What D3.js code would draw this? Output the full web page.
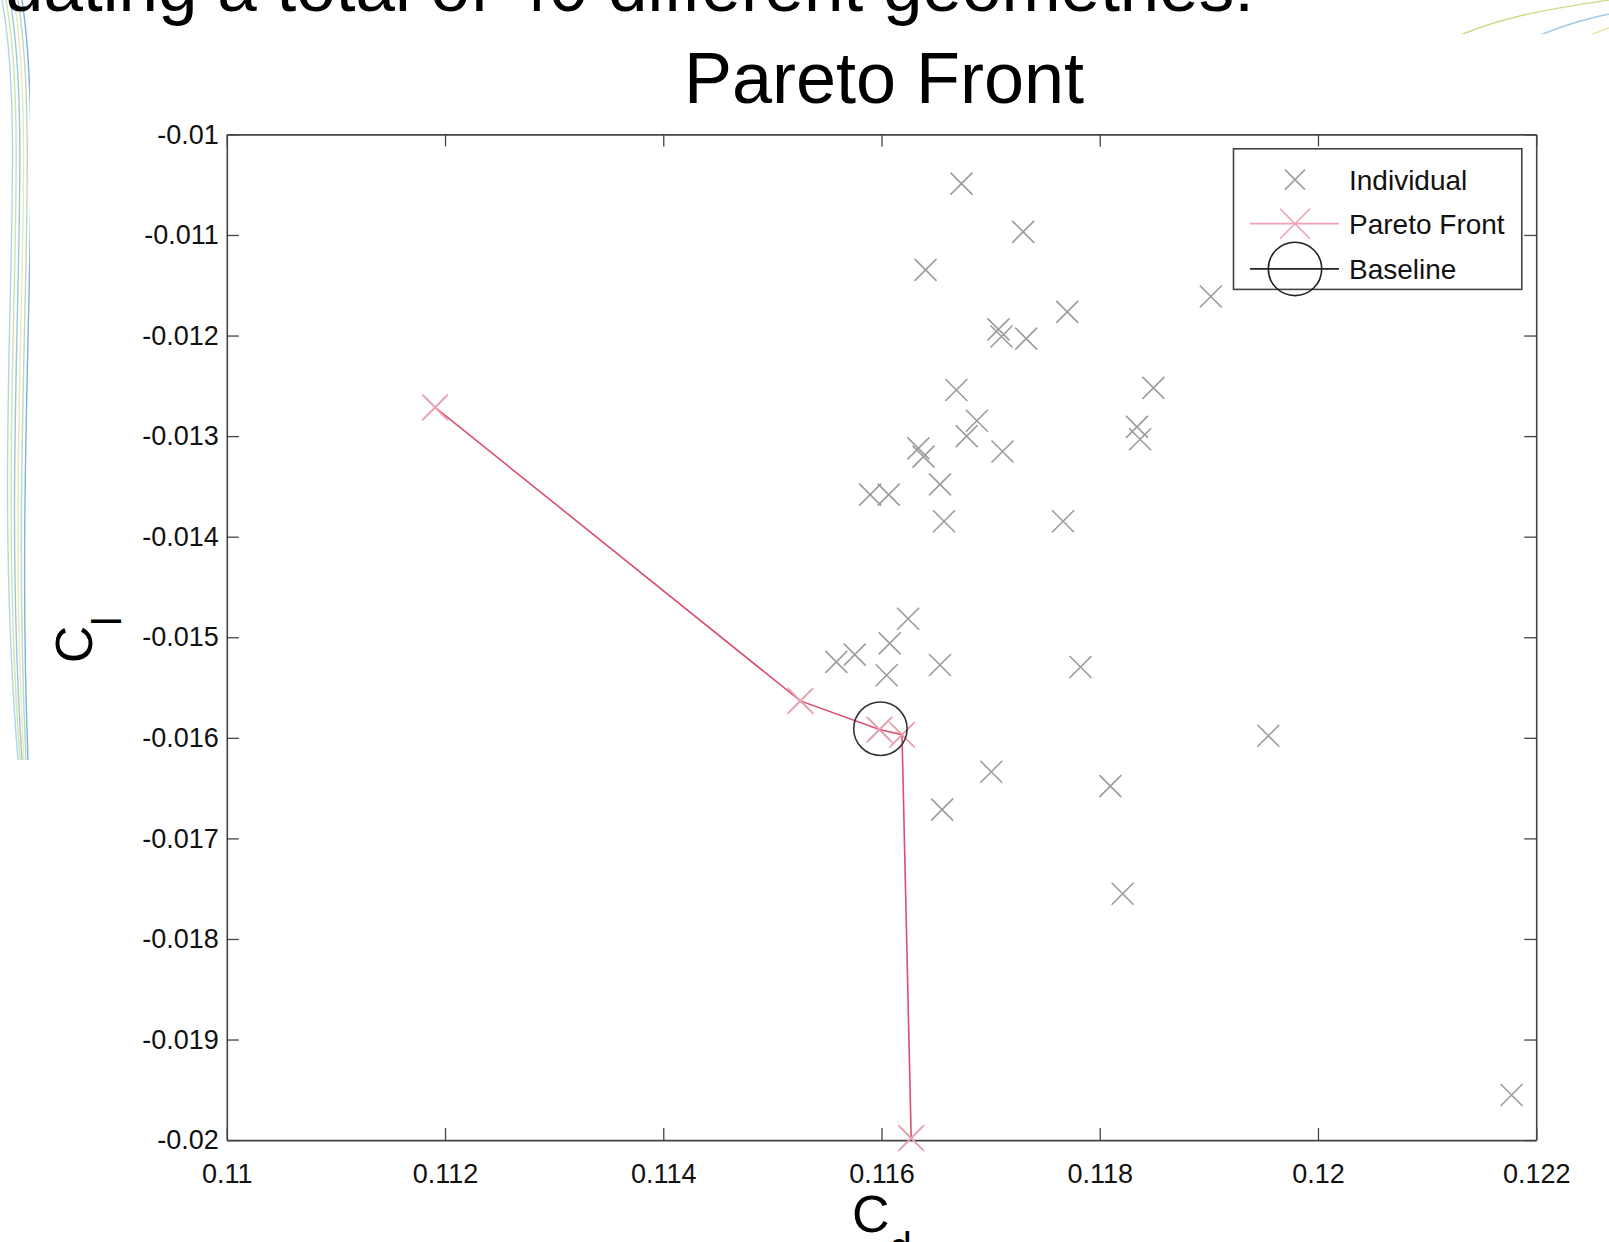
<!DOCTYPE html>
<html>
<head>
<meta charset="utf-8">
<script src="https://cdn.jsdelivr.net/npm/d3@7"></script>
<style>
  body { margin: 0; background: #fff; }
  svg { display: block; font-family: "Liberation Sans", Arial, sans-serif; }
</style>
</head>
<body>
<div id="chart"></div>
<script>

// Individual designs (Cd, Cl)
var individualCd = [0.116733, 0.117298, 0.116404, 0.117702, 0.117072, 0.117100, 0.117326, 0.119018,
                    0.118492, 0.118341, 0.118370, 0.116686, 0.116874, 0.116780, 0.117109, 0.116338,
                    0.116385, 0.116536, 0.115896, 0.116066, 0.116573, 0.117664, 0.116244, 0.116075,
                    0.115586, 0.115755, 0.116047, 0.116536, 0.117824, 0.117006, 0.118097, 0.116555,
                    0.118210, 0.119545, 0.121774,
                    0.111909, 0.115257, 0.115981, 0.116188, 0.116272];
var individualCl = [-0.010490, -0.010969, -0.011347, -0.011765, -0.011939, -0.012010, -0.012031, -0.011612,
                    -0.012520, -0.012908, -0.013031, -0.012541, -0.012847, -0.013000, -0.013153, -0.013122,
                    -0.013204, -0.013480, -0.013582, -0.013582, -0.013847, -0.013847, -0.014816, -0.015061,
                    -0.015245, -0.015173, -0.015378, -0.015276, -0.015296, -0.016337, -0.016480, -0.016714,
                    -0.017551, -0.015980, -0.019551,
                    -0.012714, -0.015633, -0.015918, -0.015969, -0.019980];

// Pareto front
var paretoCd = [0.111909, 0.115257, 0.115981, 0.116188, 0.116272];
var paretoCl = [-0.012714, -0.015633, -0.015918, -0.015969, -0.019980];

// Baseline
var baselineCd = [0.11599];
var baselineCl = [-0.01591];

var xTicks = [0.11, 0.112, 0.114, 0.116, 0.118, 0.12, 0.122];
var yTicks = [-0.01, -0.011, -0.012, -0.013, -0.014, -0.015, -0.016, -0.017, -0.018, -0.019, -0.02];

var legendLabels = ["Individual", "Pareto Front", "Baseline"];

var W = 1609, H = 1242;
var margin = { top: 134.4, left: 226.8 },
    width = 1309.4,
    height = 1005.7;

var svg = d3.select("#chart").append("svg")
    .attr("width", W)
    .attr("height", H);

var defs = svg.append("defs");
defs.append("filter").attr("id", "soft")
  .append("feGaussianBlur").attr("stdDeviation", 0.6);

// slide decoration on the left edge
var deco = svg.append("g").attr("fill", "none").attr("stroke-width", 1.4);
var decoCols = ["#9ec9e8", "#c8dd8a", "#7fb6de", "#e6e49a", "#a8d0c0", "#5e9fd0"];
decoCols.forEach(function(c, i) {
  deco.append("path")
    .attr("d", "M" + (2 + i * 4) + ",0 C" + (30 + i * 3) + ",150 " + (-10 + i * 5) + ",420 " + (18 + i * 2) + ",760")
    .attr("stroke", c)
    .attr("opacity", 0.8);
});
[["#c8dd8a", 1450], ["#9ec9e8", 1530], ["#e6e49a", 1580]].forEach(function(d) {
  deco.append("path")
    .attr("d", "M" + d[1] + ",40 C" + (d[1] + 40) + ",20 " + (d[1] + 90) + ",10 " + (d[1] + 160) + ",0")
    .attr("stroke", d[0]);
});

// slide heading, cut at the top
svg.append("text")
  .attr("x", 1254)
  .attr("y", 11)
  .attr("text-anchor", "end")
  .attr("font-size", 71)
  .attr("fill", "#000")
  .text("Evaluating a total of 40 different geometries:");

// white figure area
svg.append("rect")
  .attr("x", 30).attr("y", 34)
  .attr("width", W - 30).attr("height", H - 34)
  .attr("fill", "#fff");

var g = svg.append("g")
  .attr("transform", "translate(" + margin.left + "," + margin.top + ")");

var x = d3.scaleLinear().domain([0.11, 0.122]).range([0, width]),
    y = d3.scaleLinear().domain([-0.02, -0.01]).range([height, 0]);

// axes (ticks inside, box on)
var tickLen = 12;
g.append("g")
  .attr("class", "axis")
  .attr("transform", "translate(0," + height + ")")
  .call(d3.axisBottom(x).tickValues(xTicks).tickSizeInner(-tickLen).tickSizeOuter(0).tickPadding(24)
    .tickFormat(function(d) { return String(+d.toFixed(3)); }));
g.append("g")
  .attr("class", "axis")
  .call(d3.axisTop(x).tickValues(xTicks).tickSizeInner(-tickLen).tickSizeOuter(0).tickFormat(""));
g.append("g")
  .attr("class", "axis")
  .call(d3.axisLeft(y).tickValues(yTicks).tickSizeInner(-tickLen).tickSizeOuter(0).tickPadding(8)
    .tickFormat(function(d) { return String(+d.toFixed(3)); }));
g.append("g")
  .attr("class", "axis")
  .attr("transform", "translate(" + width + ",0)")
  .call(d3.axisRight(y).tickValues(yTicks).tickSizeInner(-tickLen).tickSizeOuter(0).tickFormat(""));

g.selectAll(".axis path").attr("stroke", "#444").attr("stroke-width", 1.6);
g.selectAll(".axis line").attr("stroke", "#444").attr("stroke-width", 1.3);
g.selectAll(".axis text").attr("font-size", 27).attr("fill", "#111")
  .attr("font-family", "'Liberation Sans', Arial, sans-serif");

function cross(cx, cy, s) {
  return "M" + (cx - s) + "," + (cy - s) + "L" + (cx + s) + "," + (cy + s) +
         "M" + (cx - s) + "," + (cy + s) + "L" + (cx + s) + "," + (cy - s);
}

// individuals
g.append("g").attr("filter", "url(#soft)")
  .selectAll("path")
  .data(individualCd)
  .enter()
  .append("path")
  .attr("d", function(d, i) { return cross(x(d), y(individualCl[i]), 11); })
  .attr("stroke", "#9c9c9c")
  .attr("stroke-width", 1.6)
  .attr("fill", "none");

// pareto front
var paretoPts = paretoCd.map(function(d, i) { return [d, paretoCl[i]]; });
g.append("path")
  .datum(paretoPts)
  .attr("d", d3.line().x(function(d) { return x(d[0]); }).y(function(d) { return y(d[1]); }))
  .attr("fill", "none")
  .attr("stroke", "#d9506c")
  .attr("stroke-width", 1.6);
g.append("g").attr("filter", "url(#soft)")
  .selectAll("path")
  .data(paretoPts)
  .enter()
  .append("path")
  .attr("d", function(d) { return cross(x(d[0]), y(d[1]), 13); })
  .attr("stroke", "#f0a2b2")
  .attr("stroke-width", 1.6)
  .attr("fill", "none");

// baseline
g.selectAll(".base")
  .data(baselineCd)
  .enter()
  .append("circle")
  .attr("cx", function(d) { return x(d); })
  .attr("cy", function(d, i) { return y(baselineCl[i]); })
  .attr("r", 26.7)
  .attr("fill", "none")
  .attr("stroke", "#333")
  .attr("stroke-width", 1.6);

// title
svg.append("text")
  .attr("x", 884)
  .attr("y", 103)
  .attr("text-anchor", "middle")
  .attr("font-size", 72)
  .attr("fill", "#000")
  .text("Pareto Front");

// axis labels
var yl = svg.append("text")
  .attr("transform", "translate(92,640) rotate(-90)")
  .attr("text-anchor", "middle")
  .attr("font-size", 52)
  .attr("fill", "#000");
yl.append("tspan").text("C");
yl.append("tspan").attr("font-size", 40).attr("dy", 29).text("l");

var xl = svg.append("text")
  .attr("x", 852)
  .attr("y", 1232)
  .attr("font-size", 52)
  .attr("fill", "#000");
xl.append("tspan").text("C");
xl.append("tspan").attr("font-size", 40).attr("dy", 29).text("d");

// legend
var lg = svg.append("g");
lg.append("rect")
  .attr("x", 1233.5).attr("y", 148.8)
  .attr("width", 288.3).attr("height", 140.6)
  .attr("fill", "#fff")
  .attr("stroke", "#444")
  .attr("stroke-width", 1.6);
var rowY = [179.6, 223.7, 268.9];
var lx1 = 1250, lx2 = 1339, lmx = 1295;

lg.append("path").attr("d", cross(lmx, rowY[0], 10))
  .attr("stroke", "#9c9c9c").attr("stroke-width", 1.5).attr("filter", "url(#soft)");
lg.append("line").attr("x1", lx1).attr("x2", lx2).attr("y1", rowY[1]).attr("y2", rowY[1])
  .attr("stroke", "#f0a2b2").attr("stroke-width", 1.8);
lg.append("path").attr("d", cross(lmx, rowY[1], 15))
  .attr("stroke", "#f0a2b2").attr("stroke-width", 1.6).attr("filter", "url(#soft)");
lg.append("line").attr("x1", lx1).attr("x2", lx2).attr("y1", rowY[2]).attr("y2", rowY[2])
  .attr("stroke", "#222").attr("stroke-width", 1.6);
lg.append("circle").attr("cx", lmx).attr("cy", rowY[2]).attr("r", 26.7)
  .attr("fill", "none").attr("stroke", "#222").attr("stroke-width", 1.6);

lg.selectAll(".lbl")
  .data(legendLabels)
  .enter()
  .append("text")
  .attr("x", 1349)
  .attr("y", function(d, i) { return rowY[i]; })
  .attr("dy", "0.36em")
  .attr("font-size", 28)
  .attr("fill", "#111")
  .text(function(d) { return d; });

</script>
</body>
</html>
